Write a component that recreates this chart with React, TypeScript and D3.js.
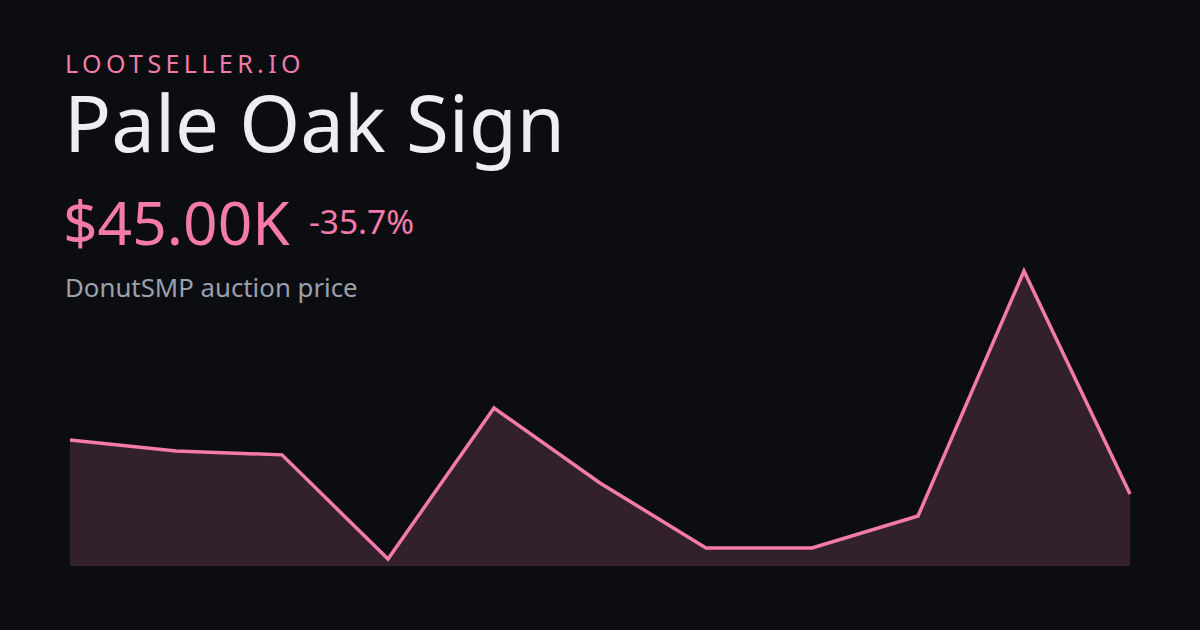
import React from "react";
import * as d3 from "d3";

const W = 1200;
const H = 630;

const brand = "LOOTSELLER.IO";
const title = "Pale Oak Sign";
const priceLabel = "$45.00K";
const changeLabel = "-35.7%";
const subtitle = "DonutSMP auction price";

// price in thousands
const prices = [70, 64.9, 63.1, 14.9, 84.8, 50.1, 20, 20, 34.8, 148.2, 45];

export default function App() {
  const x = d3.scaleLinear().domain([0, prices.length - 1]).range([70, 1130]);
  const y = d3.scaleLinear().domain([14.9, 148.2]).range([559, 271]);
  const baseY = 566;

  const line = d3
    .line<number>()
    .x((_, i) => x(i))
    .y((d) => y(d));
  const area = d3
    .area<number>()
    .x((_, i) => x(i))
    .y0(baseY)
    .y1((d) => y(d));

  const font = "'Noto Sans', 'Open Sans', sans-serif";

  return (
    <svg
      width={W}
      height={H}
      viewBox={`0 0 ${W} ${H}`}
      style={{ position: "absolute", left: 0, top: 0, display: "block" }}
    >
      <rect x={0} y={0} width={W} height={H} fill="#0c0d10" />
      <text x={65} y={73} fill="#f47aaa" fontFamily={font} fontSize={25} letterSpacing={4.4}>
        {brand}
      </text>
      <text x={64} y={152} fill="#eceef2" fontFamily={font} fontSize={78}>
        {title}
      </text>
      <text x={63} y={245} fill="#f47aaa" fontFamily={font} fontSize={60.5}>
        {priceLabel}
      </text>
      <text x={309} y={234} fill="#f47aaa" fontFamily={font} fontSize={33.5}>
        {changeLabel}
      </text>
      <text x={65} y={297} fill="#9aa0ae" fontFamily={font} fontSize={25.8}>
        {subtitle}
      </text>
      <path d={area(prices) || ""} fill="#32202c" />
      <path
        d={line(prices) || ""}
        fill="none"
        stroke="#f47aaa"
        strokeWidth={3.5}
        strokeLinejoin="miter"
      />
    </svg>
  );
}
